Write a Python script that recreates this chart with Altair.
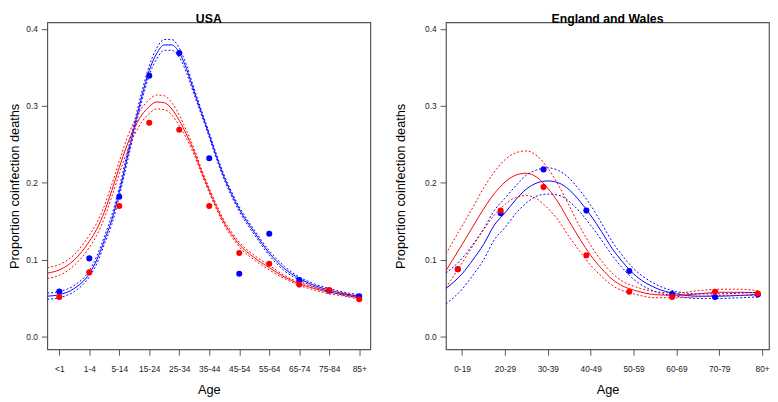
import json
import altair as alt
import pandas as pd

# ---------------- data ----------------
usa_labels = ["<1", "1-4", "5-14", "15-24", "25-34", "35-44", "45-54", "55-64", "65-74", "75-84", "85+"]
usa_pos = [0, 1, 2, 3, 4, 5, 6, 7, 8, 9, 10]
usa_blue_pts = [0.059, 0.102, 0.182, 0.339, 0.3685, 0.232, 0.082, 0.134, 0.074, 0.060, 0.053]
usa_red_pts = [0.052, 0.084, 0.170, 0.278, 0.269, 0.170, 0.109, 0.095, 0.068, 0.061, 0.049]

usa_grid = [-0.4, 0, 0.5, 1, 1.25, 1.5, 1.75, 2, 2.25, 2.5, 2.75, 3, 3.25, 3.5, 3.75, 4,
            4.25, 4.5, 4.75, 5, 5.25, 5.5, 5.75, 6, 6.5, 7, 7.5, 8, 8.5, 9, 9.5, 10]
usa_blue_fit = [0.053, 0.055, 0.063, 0.082, 0.100, 0.125, 0.152, 0.188, 0.230, 0.272, 0.312, 0.346,
                0.368, 0.379, 0.379, 0.369, 0.347, 0.318, 0.290, 0.262, 0.233, 0.207, 0.185, 0.166,
                0.136, 0.109, 0.089, 0.076, 0.067, 0.061, 0.056, 0.053]
usa_blue_ci = [0.004, 0.004, 0.004, 0.004, 0.005, 0.005, 0.006, 0.006, 0.006, 0.006, 0.006, 0.006,
               0.007, 0.007, 0.007, 0.006, 0.005, 0.004, 0.003, 0.003, 0.003, 0.003, 0.003, 0.003,
               0.003, 0.003, 0.003, 0.002, 0.002, 0.002, 0.002, 0.002]
usa_red_fit = [0.083, 0.087, 0.100, 0.124, 0.140, 0.162, 0.190, 0.220, 0.248, 0.271, 0.288, 0.299,
               0.305, 0.304, 0.296, 0.281, 0.262, 0.240, 0.214, 0.190, 0.168, 0.148, 0.133, 0.120,
               0.103, 0.090, 0.078, 0.069, 0.063, 0.058, 0.055, 0.051]
usa_red_ci = [0.007, 0.007, 0.007, 0.008, 0.008, 0.008, 0.008, 0.008, 0.009, 0.009, 0.009, 0.009,
              0.009, 0.009, 0.008, 0.007, 0.005, 0.004, 0.003, 0.003, 0.003, 0.003, 0.003, 0.003,
              0.003, 0.003, 0.002, 0.002, 0.002, 0.002, 0.002, 0.002]

ew_labels = ["0-19", "20-29", "30-39", "40-49", "50-59", "60-69", "70-79", "80+"]
ew_pos = [-0.1, 0.9, 1.9, 2.9, 3.9, 4.9, 5.9, 6.9]
ew_blue_pts = [0.088, 0.1605, 0.2175, 0.164, 0.0857, 0.0557, 0.052, 0.055]
ew_red_pts = [0.088, 0.164, 0.1945, 0.106, 0.0586, 0.052, 0.0586, 0.0565]

ew_grid = [-0.376, 0, 0.25, 0.5, 0.75, 1.0, 1.25, 1.5, 1.75, 2.0, 2.25, 2.5, 2.75, 3.0,
           3.25, 3.5, 3.75, 4.0, 4.5, 5.0, 5.5, 6.0, 6.5, 6.9]
ew_blue_fit = [0.063, 0.082, 0.100, 0.120, 0.145, 0.161, 0.178, 0.192, 0.200, 0.2025, 0.200, 0.191,
               0.176, 0.158, 0.137, 0.115, 0.097, 0.082, 0.064, 0.056, 0.053, 0.053, 0.054, 0.055]
ew_blue_ci = [0.020, 0.020, 0.020, 0.020, 0.019, 0.019, 0.018, 0.018, 0.017, 0.017, 0.016, 0.015,
              0.014, 0.013, 0.011, 0.009, 0.008, 0.007, 0.005, 0.003, 0.003, 0.003, 0.003, 0.003]
ew_red_fit = [0.086, 0.120, 0.143, 0.166, 0.186, 0.201, 0.210, 0.2125, 0.207, 0.193, 0.174, 0.150,
              0.127, 0.106, 0.089, 0.075, 0.066, 0.061, 0.055, 0.054, 0.056, 0.058, 0.058, 0.057]
ew_red_ci = [0.022, 0.024, 0.025, 0.027, 0.028, 0.029, 0.029, 0.029, 0.028, 0.026, 0.023, 0.020,
             0.016, 0.013, 0.010, 0.008, 0.006, 0.005, 0.004, 0.003, 0.004, 0.004, 0.004, 0.003]

Y_TICKS = [0.0, 0.1, 0.2, 0.3, 0.4]
Y_DOMAIN = [-0.016, 0.4083]
FONT = "Liberation Sans"


def panel(title, labels, pos, bpts, rpts, grid, bfit, bci, rfit, rci, xdom, title_pad, plot_w, plot_h):
    rows = []
    for s, fit, ci in (("blue", bfit, bci), ("red", rfit, rci)):
        for x, f, c in zip(grid, fit, ci):
            rows.append({"x": x, "fit": f, "lo": f - c, "hi": f + c, "s": s})
    curves = pd.DataFrame(rows)
    prow = []
    for s, vals in (("blue", bpts), ("red", rpts)):
        for x, v in zip(pos, vals):
            prow.append({"x": x, "v": v, "s": s})
    pts = pd.DataFrame(prow)

    xscale = alt.Scale(domain=xdom, nice=False, zero=False)
    yscale = alt.Scale(domain=Y_DOMAIN, nice=False, zero=False)
    color = alt.Color("s:N", scale=alt.Scale(domain=["blue", "red"], range=["#0000ff", "#ff0000"]), legend=None)
    xaxis = alt.Axis(values=list(range(len(labels))), labelExpr=json.dumps(labels) + "[round(datum.value)]",
                     title="Age", labelOverlap=False, labelFlush=False)
    yaxis = alt.Axis(values=Y_TICKS, format=".1f", title="Proportion coinfection deaths",
                     titlePadding=title_pad, labelOverlap=False, labelFlush=False)

    def X():
        return alt.X("x:Q", scale=xscale, axis=xaxis)

    def Y(field):
        return alt.Y(field, type="quantitative", scale=yscale, axis=yaxis)

    base = alt.Chart(curves)
    hi_l = base.mark_line(strokeWidth=1, strokeDash=[2, 2], clip=True, interpolate="monotone").encode(
        x=X(), y=Y("hi"), color=color)
    lo_l = base.mark_line(strokeWidth=1, strokeDash=[2, 2], clip=True, interpolate="monotone").encode(
        x=X(), y=Y("lo"), color=color)
    fit_l = base.mark_line(strokeWidth=1, clip=True, interpolate="monotone").encode(
        x=X(), y=Y("fit"), color=color)
    dots = alt.Chart(pts).mark_circle(size=38, opacity=1).encode(
        x=X(), y=Y("v"), color=color)
    return alt.layer(fit_l, hi_l, lo_l, dots).properties(
        title=alt.TitleParams(title, fontSize=12.5, fontWeight="bold", font=FONT, offset=-3, anchor="middle"),
        width=plot_w, height=plot_h)


left = panel("USA", usa_labels, usa_pos, usa_blue_pts, usa_red_pts, usa_grid,
             usa_blue_fit, usa_blue_ci, usa_red_fit, usa_red_ci, [-0.4, 10.37], 4, 329, 333)
right = panel("England and Wales", ew_labels, ew_pos, ew_blue_pts, ew_red_pts, ew_grid,
              ew_blue_fit, ew_blue_ci, ew_red_fit, ew_red_ci, [-0.376, 7.16], 17, 329, 333)

chart = alt.hconcat(left, right, spacing=23).properties(
    padding={"left": 0, "top": 0, "right": 0, "bottom": 0}
).configure(font=FONT).configure_view(
    stroke="#555555", strokeWidth=1.2
).configure_axis(
    domain=False, grid=False, tickColor="#555555", tickSize=6, tickWidth=1,
    labelFontSize=8.5, labelColor="#222222", labelFont=FONT,
    titleFontSize=13, titleFontWeight="normal", titleColor="#000000", titleFont=FONT
).configure_axisX(labelPadding=10, titlePadding=10).configure_axisY(labelPadding=4)

chart.save("out.html", embed_options={"renderer": "svg", "actions": False})
